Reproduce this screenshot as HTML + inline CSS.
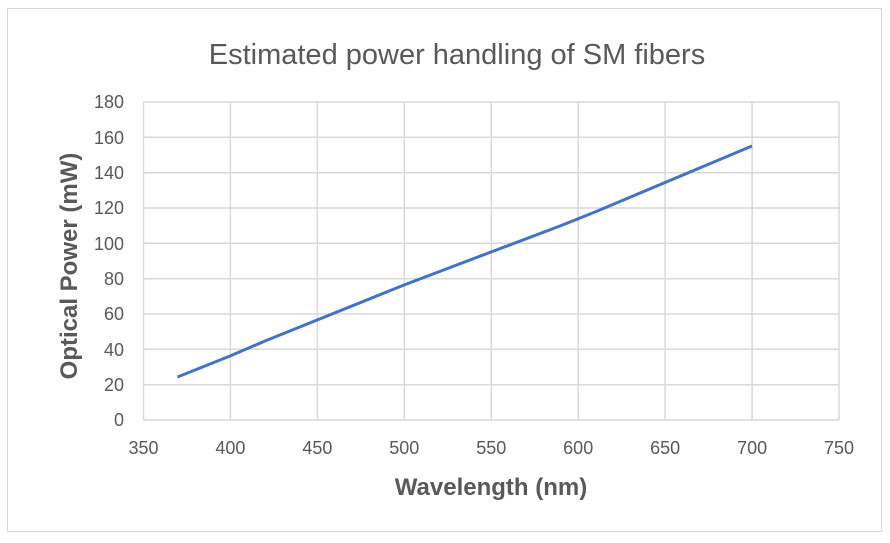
<!DOCTYPE html>
<html><head><style>body{margin:0;background:#fff}</style></head><body>
<svg width="890" height="538" xmlns="http://www.w3.org/2000/svg" font-family="Liberation Sans, sans-serif">
<rect x="0" y="0" width="890" height="538" fill="#fff"/>
<rect x="7.5" y="8.5" width="874" height="523" fill="#fff" stroke="#d9d9d9"/>
<text x="457" y="64" text-anchor="middle" font-size="29" fill="#595959">Estimated power handling of SM fibers</text>
<g stroke="#d9d9d9" stroke-width="1.5">
<line x1="143.5" y1="102" x2="839" y2="102"/><line x1="143.5" y1="137.3" x2="839" y2="137.3"/><line x1="143.5" y1="172.7" x2="839" y2="172.7"/><line x1="143.5" y1="208" x2="839" y2="208"/><line x1="143.5" y1="243.3" x2="839" y2="243.3"/><line x1="143.5" y1="278.7" x2="839" y2="278.7"/><line x1="143.5" y1="314" x2="839" y2="314"/><line x1="143.5" y1="349.3" x2="839" y2="349.3"/><line x1="143.5" y1="384.7" x2="839" y2="384.7"/><line x1="143.5" y1="420" x2="839" y2="420"/>
<line x1="143.5" y1="102" x2="143.5" y2="420"/><line x1="230.4" y1="102" x2="230.4" y2="420"/><line x1="317.4" y1="102" x2="317.4" y2="420"/><line x1="404.3" y1="102" x2="404.3" y2="420"/><line x1="491.3" y1="102" x2="491.3" y2="420"/><line x1="578.2" y1="102" x2="578.2" y2="420"/><line x1="665.1" y1="102" x2="665.1" y2="420"/><line x1="752.1" y1="102" x2="752.1" y2="420"/><line x1="839" y1="102" x2="839" y2="420"/>
</g>
<g font-size="18" fill="#595959" text-anchor="end">
<text x="124" y="108">180</text><text x="124" y="144">160</text><text x="124" y="179">140</text><text x="124" y="214">120</text><text x="124" y="250">100</text><text x="124" y="285">80</text><text x="124" y="320">60</text><text x="124" y="356">40</text><text x="124" y="391">20</text><text x="124" y="426">0</text>
</g>
<g font-size="18" fill="#595959" text-anchor="middle">
<text x="143.5" y="454">350</text><text x="230.4" y="454">400</text><text x="317.4" y="454">450</text><text x="404.3" y="454">500</text><text x="491.3" y="454">550</text><text x="578.2" y="454">600</text><text x="665.1" y="454">650</text><text x="752.1" y="454">700</text><text x="839" y="454">750</text>
</g>
<text x="491" y="495" text-anchor="middle" font-size="24" font-weight="bold" fill="#595959">Wavelength (nm)</text>
<text transform="translate(77,266) rotate(-90)" text-anchor="middle" font-size="24" font-weight="bold" fill="#595959">Optical Power (mW)</text>
<polyline fill="none" stroke="#4472c4" stroke-width="3" stroke-linejoin="round" points="177.5,377 230,356 265,341 404,285 491,252 560,226 595,212 752,146"/>
</svg>
</body></html>
